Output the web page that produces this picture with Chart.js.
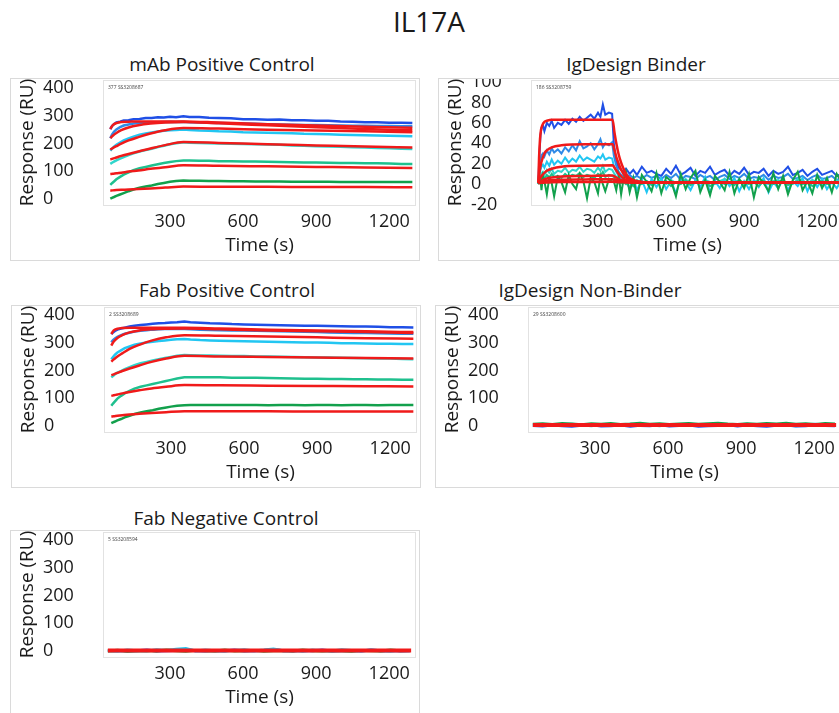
<!DOCTYPE html>
<html>
<head>
<meta charset="utf-8">
<title>IL17A</title>
<script src="https://cdn.jsdelivr.net/npm/chart.js@4/dist/chart.umd.min.js"></script>
<style>
  html, body { margin: 0; padding: 0; background: #fff; overflow: hidden; }
  body { width: 839px; height: 713px; position: relative; font-family: "Open Sans", sans-serif; color: #1a1a1a; }
  #main { position: absolute; left: 329px; top: 4px; width: 200px; text-align: center; font-size: 28px; line-height: 34px; }
  .ttl { position: absolute; width: 320px; text-align: center; font-size: 19px; line-height: 24px; white-space: nowrap; }
  canvas { position: absolute; }
</style>
</head>
<body>
<div id="main">IL17A</div>
<script>
// ---- shared axes ----
const xTicks = [300, 600, 900, 1200];
const ruTicks = [0, 100, 200, 300, 400];
const binderTicks = [-20, 0, 20, 40, 60, 80, 100];

// ---- positive controls: sensorgrams (6 concentrations) ----
const ctrlTime = [55, 62, 70, 80, 95, 110, 130, 150, 175, 200, 225, 250, 275, 300, 325, 355, 380, 420, 460, 500, 550, 600, 650, 700, 750, 800, 850, 900, 950, 1000, 1050, 1100, 1150, 1200, 1250, 1295];
const fitTime = [55, 65, 80, 100, 130, 170, 220, 280, 355, 500, 700, 900, 1100, 1295];

// mAb Positive Control
const mabBlue  = [252, 263, 270, 276, 279, 283, 284, 288, 289, 292, 292, 295, 294, 297, 295, 299, 296, 296, 293, 292, 291, 288, 288, 286, 287, 284, 284, 282, 282, 280, 279, 277, 277, 275, 275, 274];
const mabMid   = [219, 232, 242, 251, 259, 265, 269, 272, 274, 276, 276, 277, 278, 279, 278, 279, 277, 276, 275, 274, 273, 272, 271, 270, 269, 268, 267, 267, 266, 265, 264, 264, 263, 263, 262, 262];
const mabCyan  = [174, 181, 188, 195, 203, 211, 218, 225, 232, 236, 240, 243, 246, 248, 249, 251, 249, 247, 246, 244, 243, 241, 240, 239, 238, 237, 235, 234, 233, 232, 231, 230, 229, 228, 227, 226];
const mabTurq  = [126, 130, 134, 139, 145, 151, 158, 164, 171, 176, 181, 187, 192, 197, 201, 204, 203, 202, 201, 200, 199, 198, 197, 196, 195, 193, 192, 190, 189, 188, 186, 185, 184, 183, 181, 180];
const mabTeal  = [50, 56, 62, 70, 79, 87, 95, 103, 110, 115, 120, 125, 129, 133, 136, 138, 138, 137, 137, 136, 136, 135, 135, 134, 133, 132, 131, 131, 130, 129, 129, 128, 128, 127, 126, 126];
const mabGreen = [0, 3, 6, 10, 15, 20, 27, 33, 40, 44, 48, 53, 57, 61, 64, 66, 65, 65, 64, 64, 63, 63, 62, 62, 62, 61, 61, 61, 61, 60, 60, 60, 60, 60, 60, 60];
const mabFit1 = [252, 266, 274, 278, 279, 280, 280, 280, 280, 276, 270, 265, 261, 257];
const mabFit2 = [219, 228, 238, 248, 258, 266, 272, 276, 278, 273, 266, 259, 252, 248];
const mabFit3 = [178, 183, 190, 199, 211, 223, 236, 248, 256, 254, 250, 247, 244, 241];
const mabFit4 = [142, 145, 149, 155, 162, 171, 182, 194, 205, 202, 197, 193, 189, 185];
const mabFit5 = [89, 90, 92, 94, 98, 102, 108, 114, 121, 119, 117, 115, 113, 111];
const mabFit6 = [29, 30, 31, 32, 33, 35, 37, 40, 44, 43, 43, 42, 42, 41];

// Fab Positive Control
const fabBlue  = [332, 338, 343, 348, 352, 355, 359, 362, 365, 367, 369, 371, 372, 374, 375, 377, 375, 373, 371, 370, 368, 367, 366, 365, 364, 363, 362, 362, 361, 360, 359, 359, 358, 357, 357, 356];
const fabMid   = [302, 310, 316, 322, 328, 333, 337, 341, 344, 346, 348, 349, 350, 350, 351, 350, 349, 348, 347, 346, 345, 345, 344, 343, 342, 341, 340, 339, 338, 337, 336, 336, 335, 334, 333, 333];
const fabCyan  = [241, 249, 257, 265, 273, 281, 287, 293, 298, 301, 304, 307, 309, 311, 313, 314, 312, 310, 309, 308, 307, 306, 305, 304, 303, 302, 301, 301, 300, 299, 299, 298, 297, 297, 296, 296];
const fabTurq  = [175, 180, 186, 192, 198, 205, 212, 219, 226, 231, 236, 241, 245, 249, 253, 256, 255, 254, 254, 253, 252, 252, 251, 251, 250, 249, 248, 247, 247, 246, 245, 244, 243, 243, 242, 241];
const fabTeal  = [72, 80, 88, 98, 108, 117, 126, 134, 141, 146, 151, 156, 161, 166, 171, 175, 175, 175, 175, 175, 174, 174, 174, 173, 172, 171, 170, 170, 169, 169, 168, 168, 167, 167, 166, 166];
const fabGreen = [9, 12, 15, 19, 24, 30, 36, 42, 48, 52, 56, 61, 65, 69, 72, 74, 75, 75, 75, 75, 75, 75, 75, 74, 75, 75, 74, 75, 75, 74, 75, 75, 74, 75, 75, 75];
const fabFit1 = [332, 345, 351, 354, 355, 355, 355, 355, 355, 352, 348, 345, 342, 339];
const fabFit2 = [290, 305, 318, 328, 338, 345, 349, 351, 352, 349, 345, 342, 339, 336];
const fabFit3 = [232, 240, 251, 262, 278, 293, 308, 320, 328, 326, 323, 320, 317, 315];
const fabFit4 = [183, 186, 191, 198, 207, 218, 231, 243, 253, 251, 249, 247, 245, 243];
const fabFit5 = [108, 110, 113, 117, 122, 128, 135, 141, 147, 146, 145, 144, 143, 142];
const fabFit6 = [33, 34, 36, 38, 40, 43, 46, 49, 52, 52, 52, 51, 51, 51];

// ---- IgDesign Binder ----
const bindTime = [55, 60, 64, 68, 74, 80, 90, 100, 110, 120, 135, 150, 165, 180, 195, 210, 225, 240, 255, 270, 285, 300, 310, 320, 330, 345, 358, 365, 375, 385, 395, 405, 415, 430, 445, 460, 480, 500, 520, 540, 560, 580, 600, 620, 640, 660, 680, 700, 720, 740, 760, 780, 800, 820, 840, 860, 880, 900, 920, 940, 960, 980, 1000, 1020, 1040, 1060, 1080, 1100, 1120, 1140, 1160, 1180, 1200, 1220, 1240, 1260, 1280, 1300];
const bindBlue = [2, 30, 48, 55, 58, 52, 60, 57, 62, 55, 60, 58, 63, 59, 64, 61, 66, 62, 65, 68, 64, 70, 66, 78, 68, 70, 69,
  40, 22, 16, 14, 12, 15, 10, 14, 9, 17, 11, 13, 10,
  8, 15, 10, 18, 9, 12, 16, 8, 13, 11, 17, 9, 12, 14, 8, 13, 10, 16, 9, 12, 11, 15, 8, 13, 10, 12, 17, 9, 11, 14, 8, 12, 15, 9, 11, 13, 8, 10];
const bindMid = [1, 14, 24, 28, 30, 27, 33, 29, 35, 31, 34, 30, 36, 32, 38, 33, 42, 35, 37, 40, 34, 39, 44, 36, 40, 38, 41,
  28, 18, 12, 9, 8, 7, 9, 6, 8, 5, 9, 6, 8,
  5, 9, 6, 10, 4, 8, 7, 5, 9, 6, 8, 4, 7, 9, 5, 8, 6, 10, 5, 7, 6, 9, 4, 8, 6, 7, 10, 5, 6, 8, 4, 7, 9, 5, 6, 8, 4, 6];
const bindCyan = [0, 8, 14, 17, 19, 16, 22, 18, 24, 19, 23, 20, 26, 21, 25, 22, 28, 23, 26, 24, 22, 27, 25, 29, 24, 26, 25,
  18, 12, 8, 5, 3, 2, -4, 6, -6, 4, -8, 5, -3,
  6, -5, 3, -9, 5, 2, -6, 4, -3, 7, -8, 3, -4, 5, -2, 6, -7, 3, -5, 4, -3, 6, -8, 2, -4, 5, -6, 3, -2, 6, -7, 4, -3, 5, -5, 2, -4, 4];
const bindTurq = [0, 4, 8, 10, 12, 9, 14, 11, 15, 10, 13, 12, 16, 11, 14, 13, 17, 12, 15, 14, 11, 16, 13, 18, 12, 15, 14,
  11, 7, 4, 3, 2, 1, 3, 0, 4, 1, 3, 0, 2,
  3, 0, 4, 1, 2, 5, 0, 3, 1, 4, 2, 0, 3, 5, 1, 2, 4, 0, 3, 1, 5, 2, 0, 3, 4, 1, 2, 0, 5, 3, 1, 4, 2, 0, 3, 1, 4, 2];
const bindTeal = [0, 3, 5, 6, 8, 5, 9, 6, 10, 7, 8, 6, 10, 7, 9, 8, 11, 7, 9, 8, 6, 10, 8, 12, 7, 9, 8,
  7, 4, 2, 1, 2, 0, 3, -2, 2, 0, 3, -1, 2,
  1, 3, -2, 2, 0, 4, -1, 2, 1, 3, -2, 1, 3, 0, 2, -1, 4, 1, 0, 2, -2, 3, 1, 0, 2, 4, -1, 1, 3, 0, 2, -2, 1, 3, 0, 2, 1, 0];
const bindGreen = [0, 2, 5, -6, 8, 3, -10, 6, 1, -12, 7, 2, -8, 9, 0, -5, 10, 3, -14, 6, 2, -9, 8, 0, -7, 5, 2,
  3, -6, 8, -10, 5, 12, -8, 6, -13, 9, 2, -7, 11,
  -9, 7, 3, -12, 10, -5, 6, 13, -8, 4, -11, 8, 2, -6, 12, -9, 5, -4, 10, -13, 7, 1, -7, 11, -5, 8, -10, 4, 12, -6, 3, -9, 9, -4, 6, -8, 10, 2];
const bindFitTime = [55, 58, 62, 66, 72, 80, 90, 110, 150, 250, 360, 368, 376, 385, 395, 405, 418, 430, 450, 480, 520, 600, 800, 1000, 1300];
const bindFit1 = [1, 25, 44, 53, 58, 61, 62, 63, 63, 63, 63, 50, 39, 29, 21, 15, 9, 6, 3.5, 2, 1.5, 1.5, 1.5, 1.5, 1.5];
const bindFit2 = [1, 8, 15, 20, 25, 30, 33, 36, 38, 39, 39, 33, 26, 20, 14, 10, 6, 4, 2.5, 2, 1.5, 1.5, 1.5, 1.5, 1.5];
const bindFit3 = [1, 3, 5, 7, 9, 11, 13, 15, 17, 18, 18.5, 16, 13, 10, 7.5, 5.5, 4, 3, 2, 1.5, 1.5, 1.5, 1.5, 1.5, 1.5];
const bindFit4 = [1, 1.5, 2, 2.5, 3.5, 4.5, 5.5, 6.5, 7.5, 8, 8.5, 7.5, 6.5, 5, 4, 3, 2.5, 2, 1.5, 1.5, 1.5, 1.5, 1.5, 1.5, 1.5];
const bindFit5 = [1, 1.2, 1.5, 1.8, 2.2, 2.8, 3.2, 3.8, 4.3, 4.6, 4.8, 4.3, 3.8, 3.2, 2.7, 2.3, 2, 1.8, 1.6, 1.5, 1.5, 1.5, 1.5, 1.5, 1.5];
const bindFit6 = [1, 1, 1.1, 1.2, 1.3, 1.5, 1.6, 1.8, 2, 2.1, 2.2, 2.1, 2, 1.9, 1.8, 1.7, 1.6, 1.5, 1.5, 1.5, 1.5, 1.5, 1.5, 1.5, 1.5];

// ---- non-binders (flat) ----
const flatTime = [45, 85, 125, 165, 205, 245, 285, 325, 365, 405, 445, 485, 525, 565, 605, 645, 685, 725, 765, 805, 845, 885, 925, 965, 1005, 1045, 1085, 1125, 1165, 1205, 1245, 1285];
const flatFitTime = [45, 1290];
const nonBlue  = [1, -1, 2, 0, -2, 1, 3, -1, 0, 2, -2, 1, 0, 3, -1, 1, 2, -2, 0, 1, 3, -1, 2, 0, -2, 1, 2, -1, 0, 3, 1, 0];
const nonCyan  = [2, 4, 1, 3, 5, 2, 0, 4, 3, 1, 5, 2, 3, 0, 4, 2, 5, 3, 1, 4, 2, 3, 5, 1, 3, 4, 2, 0, 3, 5, 2, 3];
const nonGreen = [5, 7, 4, 8, 6, 3, 7, 5, 8, 4, 6, 9, 5, 7, 4, 6, 8, 5, 7, 9, 6, 4, 7, 5, 8, 6, 9, 5, 7, 4, 8, 6];
const nonFit   = [2.5, 2.5];
const negBlue  = [0, 1, -1, 0, 2, -1, 0, 1, 3, 0, -1, 1, 0, 2, -1, 0, 1, 4, 0, -1, 1, 0, 2, -1, 0, 1, -1, 2, 0, 1, -1, 0];
const negCyan  = [1, -2, 2, 0, -1, 3, 1, 5, 8, -1, 2, 0, -2, 1, 3, -1, 2, 6, 0, 1, -2, 2, 0, -1, 3, 1, -1, 2, 0, -2, 1, 0];
const negGreen = [-1, 1, -2, 0, 1, -1, 2, 0, -2, 1, 0, -1, 2, -1, 0, 1, -2, 0, 1, -1, 2, 0, -1, 1, 0, -2, 1, 0, -1, 2, 0, 1];
const negFit   = [0.5, 0.5];

const BLUE = '#1f4fe6', MID = '#2f8ae6', CYAN = '#22c6f2', TURQ = '#2fd6cc', TEAL = '#1fc08e', GREEN = '#12a04c';
const RED = '#f01a1a';
const FONT = '"Open Sans", sans-serif';

// frame around the panel and the plot, plus the little run label
const framePlugin = {
  id: 'frame',
  afterDraw(chart, args, opts) {
    const ctx = chart.ctx, a = chart.chartArea;
    ctx.save();
    ctx.strokeStyle = '#dadada';
    ctx.lineWidth = 1;
    ctx.strokeRect(0.5, 0.5, chart.width - 1, chart.height - 1);
    ctx.strokeStyle = '#e2e2e2';
    ctx.strokeRect(a.left + 0.5, a.top + 0.5, a.right - a.left - 1, a.bottom - a.top);
    ctx.fillStyle = '#444';
    ctx.font = '5px ' + FONT;
    ctx.textBaseline = 'top';
    ctx.fillText(opts.tag, a.left + 5, a.top + 5);
    ctx.restore();
  }
};

function series(times, vals, color, width, order) {
  return {
    data: times.map((t, i) => ({x: t, y: vals[i]})),
    borderColor: color, borderWidth: width, order: order,
    pointRadius: 0, fill: false
  };
}

function makePanel(p) {
  const t = document.createElement('div');
  t.className = 'ttl';
  t.textContent = p.title;
  t.style.left = (p.cx - 160) + 'px';
  t.style.top = (p.cy - 12) + 'px';
  document.body.appendChild(t);

  const cv = document.createElement('canvas');
  cv.width = 410; cv.height = p.h;
  cv.style.left = p.left + 'px'; cv.style.top = p.top + 'px';
  document.body.appendChild(cv);

  const ds = [];
  p.traces.forEach((s, i) => ds.push(series(p.time, s[0], s[1], p.tw, 10 - i)));
  p.fits.forEach(f => {
    const d = series(p.fitTime, f, RED, p.fw, 0);
    d.cubicInterpolationMode = 'monotone';
    ds.push(d);
  });

  new Chart(cv, {
    type: 'line',
    data: {datasets: ds},
    options: {
      responsive: false,
      animation: false,
      devicePixelRatio: 1,
      layout: {padding: {left: 33, top: 2, right: 4, bottom: p.h - 183}},
      plugins: {legend: {display: false}, tooltip: {enabled: false}, frame: {tag: p.tag}},
      scales: {
        x: {
          type: 'linear', min: 25, max: 1310,
          grid: {display: false}, border: {display: false},
          afterBuildTicks: s => { s.ticks = xTicks.map(v => ({value: v})); },
          afterFit: s => { s.height = 56; s.paddingLeft = 0; s.paddingRight = 0; },
          ticks: {font: {size: 18, family: FONT}, color: '#1a1a1a', padding: -2, maxRotation: 0, autoSkip: false,
                  callback: v => String(v)},
          title: {display: true, text: 'Time (s)', font: {size: 19, family: FONT}, color: '#1a1a1a', padding: {top: 0, bottom: 4}}
        },
        y: {
          type: 'linear', min: p.ymin, max: p.ymax,
          grid: {display: false}, border: {display: false},
          afterBuildTicks: s => { s.ticks = p.yTicks.map(v => ({value: v})); },
          afterFit: s => { s.width = 60; s.paddingTop = 0; s.paddingBottom = 0; },
          ticks: {font: {size: 18, family: FONT}, color: '#1a1a1a', crossAlign: 'far', autoSkip: false,
                  callback: v => String(v)},
          title: {display: true, text: 'Response (RU)', font: {size: 19, family: FONT}, color: '#1a1a1a', padding: {top: -27, bottom: 0}}
        }
      }
    },
    plugins: [framePlugin]
  });
}

makePanel({
  title: 'mAb Positive Control', cx: 222, cy: 64, left: 10, top: 78, h: 183, tag: '377 SS3208687',
  ymin: -23, ymax: 430, yTicks: ruTicks, time: ctrlTime, fitTime: fitTime, tw: 2.5, fw: 2.5,
  traces: [[mabBlue, BLUE], [mabMid, MID], [mabCyan, CYAN], [mabTurq, TURQ], [mabTeal, TEAL], [mabGreen, GREEN]],
  fits: [mabFit1, mabFit2, mabFit3, mabFit4, mabFit5, mabFit6]
});
makePanel({
  title: 'IgDesign Binder', cx: 636, cy: 64, left: 438, top: 78, h: 183, tag: '186 SS3208759',
  ymin: -20.5, ymax: 102, yTicks: binderTicks, time: bindTime, fitTime: bindFitTime, tw: 2, fw: 2.5,
  traces: [[bindBlue, BLUE], [bindMid, MID], [bindCyan, CYAN], [bindTurq, TURQ], [bindTeal, TEAL], [bindGreen, GREEN]],
  fits: [bindFit1, bindFit2, bindFit3, bindFit4, bindFit5, bindFit6]
});
makePanel({
  title: 'Fab Positive Control', cx: 227, cy: 290, left: 11, top: 305, h: 183, tag: '2 SS3208689',
  ymin: -23, ymax: 430, yTicks: ruTicks, time: ctrlTime, fitTime: fitTime, tw: 2.5, fw: 2.5,
  traces: [[fabBlue, BLUE], [fabMid, MID], [fabCyan, CYAN], [fabTurq, TURQ], [fabTeal, TEAL], [fabGreen, GREEN]],
  fits: [fabFit1, fabFit2, fabFit3, fabFit4, fabFit5, fabFit6]
});
makePanel({
  title: 'IgDesign Non-Binder', cx: 590, cy: 290, left: 435, top: 305, h: 183, tag: '29 SS3208600',
  ymin: -23, ymax: 430, yTicks: ruTicks, time: flatTime, fitTime: flatFitTime, tw: 3, fw: 4,
  traces: [[nonBlue, BLUE], [nonCyan, CYAN], [nonGreen, GREEN]],
  fits: [nonFit]
});
makePanel({
  title: 'Fab Negative Control', cx: 226, cy: 518, left: 10, top: 530, h: 185, tag: '5 SS3208594',
  ymin: -23, ymax: 430, yTicks: ruTicks, time: flatTime, fitTime: flatFitTime, tw: 3, fw: 4,
  traces: [[negBlue, BLUE], [negCyan, CYAN], [negGreen, GREEN]],
  fits: [negFit]
});
</script>
</body>
</html>
